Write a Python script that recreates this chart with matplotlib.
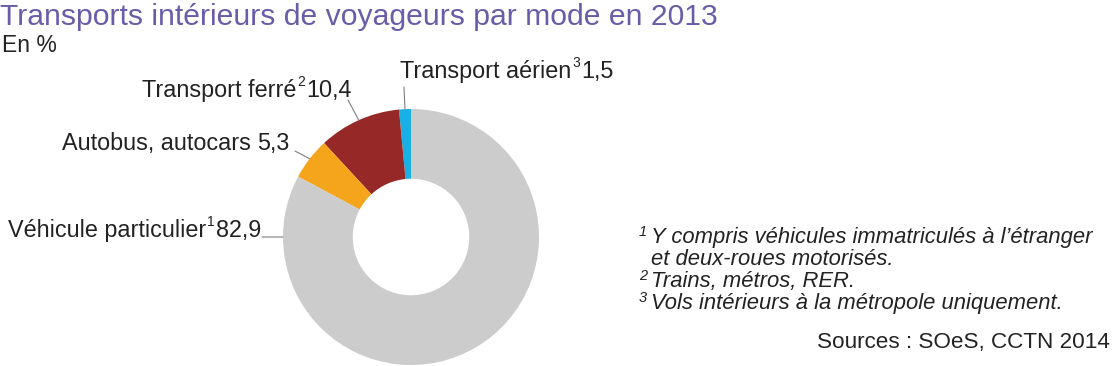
import numpy as np
import matplotlib.pyplot as plt

plt.rcParams['font.family'] = ['Liberation Sans', 'DejaVu Sans']

# data (order: counter-clockwise from the top)
modes = ["Transport aérien", "Transport ferré", "Autobus, autocars", "Véhicule particulier"]
shares = [1.5, 10.4, 5.3, 82.9]
share_labels = ["1,5", "10,4", "5,3", "82,9"]
notes = ["3", "2", "", "1"]
colors = ["#19b0e6", "#962828", "#f4a51c", "#cccccc"]

footnotes = [
    ("1", "Y compris véhicules immatriculés à l’étranger"),
    ("", "et deux-roues motorisés."),
    ("2", "Trains, métros, RER."),
    ("3", "Vols intérieurs à la métropole uniquement."),
]

W, H = 1113, 366
fig = plt.figure(figsize=(W / 100, H / 100), dpi=100)
renderer = fig.canvas.get_renderer()


def px(x, y):
    return x / W, 1 - y / H


def right_edge(t):
    return t.get_window_extent(renderer).x1


fig.text(*px(0, 25), "Transports intérieurs de voyageurs par mode en 2013",
         fontsize=21.7, color="#6a5ca8", va="baseline")
fig.text(*px(2, 52), "En %", fontsize=16.5, color="#222222", va="baseline")

# donut, centre (411, 237), radius 128 px
cx, cy, r = 411, 237, 128
ax = fig.add_axes([(cx - r) / W, (H - cy - r) / H, 2 * r / W, 2 * r / H])
wedges, _ = ax.pie(shares, colors=colors, startangle=90, counterclock=True,
                   radius=1, wedgeprops=dict(width=0.545, linewidth=0))
ax.set_xlim(-1, 1)
ax.set_ylim(-1, 1)
ax.set_aspect("equal")
ax.axis("off")

# label placement (text start / baseline, leader line end) in pixels
label_pos = [(400, 78), (142, 97), (62, 150), (8, 237)]
leader_end = [(404, 87), (348, 100), (295, 151), (262, 237)]

for i, w in enumerate(wedges):
    ang = np.deg2rad((w.theta1 + w.theta2) / 2)
    if modes[i].startswith("Véhicule"):
        ang = np.pi
    ex, ey = leader_end[i]
    ax.annotate("", xy=(np.cos(ang), np.sin(ang)), xycoords="data",
                xytext=(ex, H - ey), textcoords="figure pixels",
                arrowprops=dict(arrowstyle="-", color="#7f7f7f", lw=0.8,
                                shrinkA=0, shrinkB=0))
    lx, ly = label_pos[i]
    name = fig.text(*px(lx, ly), modes[i], fontsize=16.8,
                    color="#222222", va="baseline")
    x_next = right_edge(name) + 1
    if notes[i]:
        sup = fig.text(x_next / W, 1 - (ly - 11) / H, notes[i], fontsize=10,
                       color="#222222", va="baseline")
        x_next = right_edge(sup) + 1
    else:
        x_next += 5
    fig.text(x_next / W, 1 - ly / H, share_labels[i], fontsize=16.8,
             color="#222222", va="baseline")

# footnotes
for k, (num, txt) in enumerate(footnotes):
    y = 243 + 22 * k
    if num:
        fig.text(*px(639, y - 7), num, fontsize=10.5, style="italic",
                 color="#222222", va="baseline")
    fig.text(*px(651, y), txt, fontsize=15.8, style="italic",
             color="#222222", va="baseline")

fig.text(*px(1110, 348), "Sources : SOeS, CCTN 2014", fontsize=16.2,
         color="#222222", ha="right", va="baseline")

fig.savefig("out.png", dpi=100)
